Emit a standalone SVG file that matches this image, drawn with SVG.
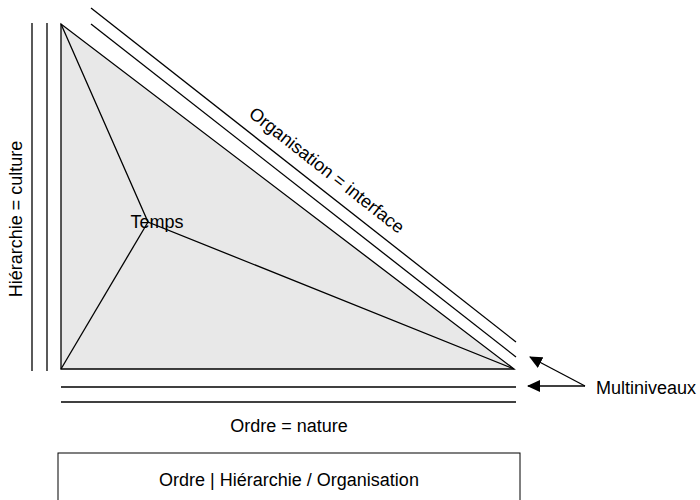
<svg xmlns="http://www.w3.org/2000/svg" width="700" height="500" viewBox="0 0 700 500">
<defs>
<style>
.l{stroke:#000;stroke-width:1.3;fill:none}
.t{font-family:"Liberation Sans",Arial,sans-serif;font-size:18px;fill:#000}
</style>
<marker id="ah" markerWidth="13" markerHeight="12" refX="12" refY="6" orient="auto" markerUnits="userSpaceOnUse"><path d="M0,0 L13,6 L0,12 z" fill="#000"/></marker>
</defs>
<rect width="700" height="500" fill="#fff"/>
<g id="triangle">
<polygon points="61,24 61,369 514,369" fill="#e8e8e8" stroke="#000" stroke-width="1.3"/>
<polyline class="l" points="61,24 148,222 514,369"/>
<line class="l" x1="148" y1="222" x2="61" y2="369"/>
<text class="t" x="157" y="228" text-anchor="middle">Temps</text>
</g>
<g id="connectors">
<line class="l" x1="32" y1="23" x2="32" y2="371"/>
<line class="l" x1="47" y1="23" x2="47" y2="371"/>
<line class="l" x1="91" y1="8" x2="516" y2="342"/>
<line class="l" x1="91" y1="24" x2="516" y2="357"/>
<line class="l" x1="61" y1="387" x2="516" y2="387"/>
<line class="l" x1="61" y1="402" x2="516" y2="402"/>
<line class="l" x1="585" y1="386" x2="530" y2="357" marker-end="url(#ah)"/>
<line class="l" x1="585" y1="386" x2="528" y2="386" marker-end="url(#ah)"/>
</g>
<g id="labels">
<text class="t" transform="translate(22,219) rotate(-90)" text-anchor="middle">Hiérarchie = culture</text>
<text class="t" transform="translate(323,175) rotate(38.2)" text-anchor="middle">Organisation = interface</text>
<text class="t" x="289" y="432" text-anchor="middle">Ordre = nature</text>
<text class="t" x="596" y="394">Multiniveaux</text>
</g>
<g id="legend">
<rect x="58" y="453" width="462" height="60" fill="#fff" stroke="#000" stroke-width="1"/>
<text class="t" x="289" y="486" text-anchor="middle">Ordre | Hiérarchie / Organisation</text>
</g>
</svg>
